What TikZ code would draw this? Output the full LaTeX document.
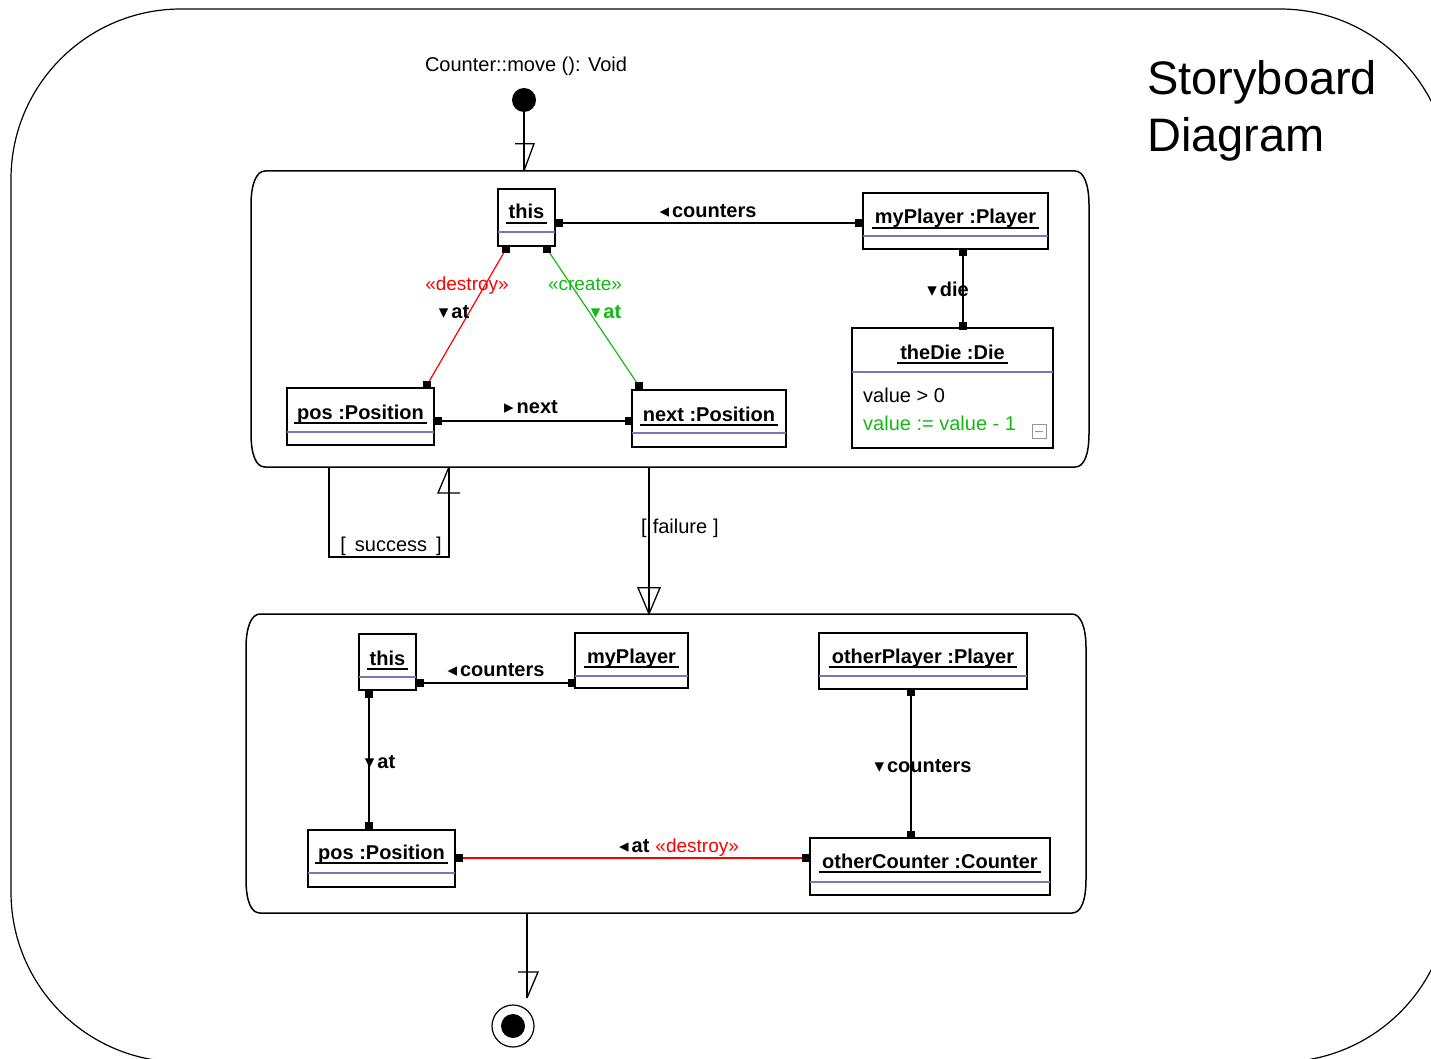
\documentclass[tikz,border=0pt]{standalone}
\usepackage{fontspec}
\setmainfont{Liberation Sans}
\newfontfamily\symfont{DejaVu Sans}
\usetikzlibrary{fit}

\definecolor{sepblue}{RGB}{120,120,185}
\definecolor{okgreen}{RGB}{20,185,20}
\definecolor{icongray}{RGB}{150,150,150}

% small direction triangles used in link labels
\newcommand\dtri{{\symfont\fontsize{19}{19}\selectfont ▾}}
\newcommand\ltri{{\symfont\fontsize{19}{19}\selectfont ◂}}
\newcommand\rtri{{\symfont\fontsize{19}{19}\selectfont ▸}}

\tikzset{
  objframe/.style={draw, line width=1.4pt, inner sep=0pt, rectangle},
  objtitle/.style={font=\fontsize{20}{24}\selectfont\bfseries, inner sep=0pt},
  uline/.style={line width=1.3pt},
  sepline/.style={draw=sepblue, line width=1.3pt},
  endsq/.style={fill=black, rectangle, minimum size=8pt, inner sep=0pt},
  link/.style={line width=1.2pt},
  lbl/.style={font=\fontsize{20}{24}\selectfont\bfseries, inner sep=0pt, anchor=base},
  plain/.style={font=\fontsize{20}{24}\selectfont, inner sep=0pt},
  stereo/.style={font=\fontsize{19}{22}\selectfont, inner sep=0pt, anchor=base},
  activity/.style={line width=1.5pt},
  trans/.style={line width=1.3pt},
}

% object box: name, x1, y1, x2, y2, title, title baseline, separator y
\newcommand\umlobj[8]{%
  \node[objframe, fit={(#2,#3)(#4,#5)}] (#1) {};
  \node[objtitle, anchor=base] (#1-t) at ({(#2+#4)/2},#7) {#6};
  \draw[uline] ([xshift=-3pt,yshift=-4pt]#1-t.base west) -- ([xshift=3pt,yshift=-4pt]#1-t.base east);
  \draw[sepline] (#2,#8) -- (#4,#8);
}

\begin{document}
\begin{tikzpicture}[x=1pt, y=-1pt]
\useasboundingbox (0,0) rectangle (1431,1059);
\clip (0,0) rectangle (1431,1059);

% frame of the storyboard
\draw[line width=1.2pt, rounded corners=170pt] (11,9) rectangle (1450,1062);
\node[font=\fontsize{47}{57}\selectfont, anchor=base west, inner sep=0pt] (title1) at (1147,95) {Storyboard};
\node[font=\fontsize{47}{57}\selectfont, anchor=base west, inner sep=0pt] (title2) at (1147,152) {Diagram};

% start state
\node[plain, anchor=base] (sig) at (526,72) {Counter::move (): Void};
\node[circle, fill=black, minimum size=24pt, inner sep=0pt] (start) at (524,100) {};

% ---------- first activity ----------
\node[fit={(251,171)(1089,467)}, inner sep=0pt] (act1) {};
\draw[activity] (265,171) -- (1075,171)
  .. controls (1084,171) and (1089,185) .. (1089,205) -- (1089,433)
  .. controls (1089,455) and (1084,467) .. (1075,467) -- (265,467)
  .. controls (256,467) and (251,455) .. (251,433) -- (251,205)
  .. controls (251,185) and (256,171) .. (265,171) -- cycle;

\umlobj{this1}{498}{189}{555}{246}{this}{219}{232}
\umlobj{player1}{863}{193}{1048}{249}{myPlayer :Player}{224}{236}
\umlobj{die1}{852}{328}{1053}{448}{theDie :Die}{359}{372}
\umlobj{pos1}{287}{388}{434}{445}{pos :Position}{419}{432}
\umlobj{next1}{632}{390}{786}{447}{next :Position}{421}{433}

\node[plain, anchor=base west] (cond) at (863,402) {value > 0};
\node[plain, anchor=base west, text=okgreen] (assign) at (863,430) {value := value - 1};
\draw[icongray, line width=1pt] (1032,424) rectangle (1046,438);
\draw[icongray, line width=1pt] (1035,431) -- (1043,431);

% link ends
\node[endsq] (a1) at (559,223) {};
\node[endsq] (a2) at (859,223) {};
\node[endsq] (b1) at (963,252) {};
\node[endsq] (b2) at (963,326) {};
\node[endsq] (c1) at (438,421) {};
\node[endsq] (c2) at (629,421) {};
\node[endsq] (d1) at (506,249) {};
\node[endsq] (d2) at (427,385) {};
\node[endsq] (g1) at (547,249) {};
\node[endsq] (g2) at (639,386) {};

\draw[link] (a1) -- (a2);
\draw[link] (b1) -- (b2);
\draw[link] (c1) -- (c2);
\draw[link, red] (d1) -- (d2);
\draw[link, okgreen] (g1) -- (g2);

\node[lbl] (la) at (708,218) {\ltri\hspace{3pt}counters};
\node[lbl] (lb) at (948,296) {\dtri\hspace{3pt}die};
\node[lbl] (lc) at (531,413) {\rtri\hspace{3pt}next};
\node[stereo, text=red] (ld1) at (467,290) {«destroy»};
\node[lbl] (ld2) at (454,318) {\dtri\hspace{3pt}at};
\node[stereo, text=okgreen] (lg1) at (585,290) {«create»};
\node[lbl, text=okgreen] (lg2) at (606,318) {\dtri\hspace{3pt}at};

% ---------- second activity ----------
\node[fit={(246,614)(1086,913)}, inner sep=0pt] (act2) {};
\draw[activity] (260,614) -- (1072,614)
  .. controls (1081,614) and (1086,628) .. (1086,648) -- (1086,879)
  .. controls (1086,901) and (1081,913) .. (1072,913) -- (260,913)
  .. controls (251,913) and (246,901) .. (246,879) -- (246,648)
  .. controls (246,628) and (251,614) .. (260,614) -- cycle;

\umlobj{this2}{359}{634}{416}{690}{this}{665}{677}
\umlobj{player2}{575}{633}{688}{688}{myPlayer}{663}{676}
\umlobj{other2}{819}{633}{1027}{689}{otherPlayer :Player}{663}{676}
\umlobj{pos2}{308}{830}{455}{887}{pos :Position}{859}{873}
\umlobj{counter2}{810}{838}{1050}{895}{otherCounter :Counter}{868}{882}

\node[endsq] (h1) at (420,683) {};
\node[endsq] (h2) at (572,683) {};
\node[endsq] (i1) at (369,694) {};
\node[endsq] (i2) at (369,826) {};
\node[endsq] (j1) at (911,692) {};
\node[endsq] (j2) at (911,835) {};
\node[endsq] (k1) at (459,858) {};
\node[endsq] (k2) at (806,858) {};

\draw[link] (h1) -- (h2);
\draw[link] (i1) -- (i2);
\draw[link] (j1) -- (j2);
\draw[link, red] (k1) -- (k2);

\node[lbl] (lh) at (496,676) {\ltri\hspace{3pt}counters};
\node[lbl] (li) at (380,768) {\dtri\hspace{3pt}at};
\node[lbl] (lj) at (923,772) {\dtri\hspace{3pt}counters};
\node[lbl] (lk) at (679,852) {\ltri\hspace{3pt}at\hspace{6pt}{\mdseries\color{red}\fontsize{19}{22}\selectfont «destroy»}};

% ---------- transitions ----------
\coordinate (s1) at (start |- act1.north);
\draw[trans] (start) -- (s1);
\draw[trans] (s1) ++(-9,-27) -- ++(19,0) -- (s1);

\coordinate (su1) at (329,467);
\coordinate (su2) at (449,467);
\draw[trans] (su1) -- (329,557) -- (449,557) -- (su2);
\draw[trans] (su2) ++(11,26) -- ++(-22,0) -- (su2);
\node[plain, anchor=base] (lsucc) at (391,551) {[\hspace{9pt}success\hspace{9pt}]};

\coordinate (f1) at (649,467);
\coordinate (f2) at (f1 |- act2.north);
\draw[trans] (f1) -- (f2);
\draw[trans] (f2) -- ++(-11,-26) -- ++(22,0) -- cycle;
\node[plain, anchor=base] (lfail) at (680,533) {[\hspace{6pt}failure\hspace{6pt}]};

\coordinate (e2) at (527,998);
\coordinate (e1) at (e2 |- act2.south);
\draw[trans] (e1) -- (e2);
\draw[trans] (e2) ++(-9,-26) -- ++(20,0) -- (e2);
\node[circle, draw, line width=1.2pt, minimum size=42pt, inner sep=0pt] (stop) at (513,1026) {};
\fill (stop.center) circle (12pt);
\end{tikzpicture}
\end{document}
